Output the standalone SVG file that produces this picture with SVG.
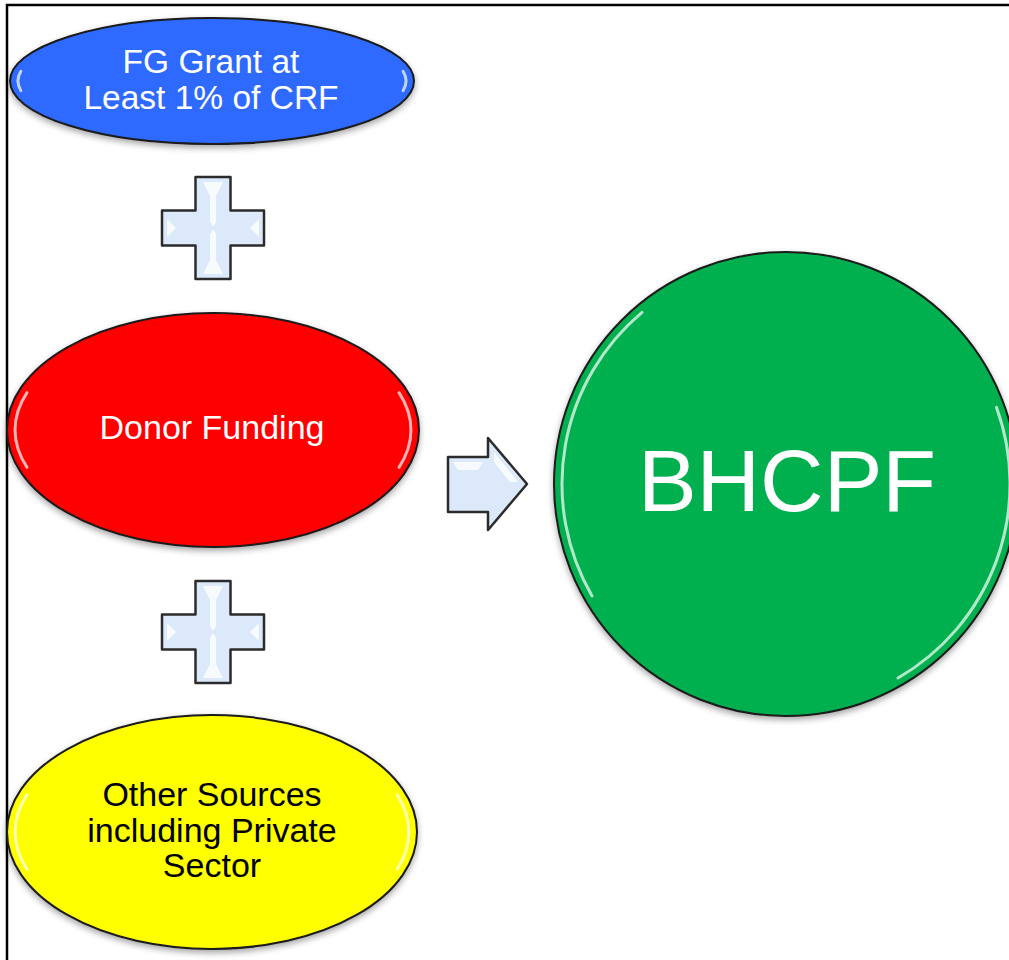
<svg xmlns="http://www.w3.org/2000/svg" width="1009" height="960" viewBox="0 0 1009 960">
<style>
  .lbl { font-family: "Liberation Sans", Arial, sans-serif; text-anchor: middle; }
  .white { fill: #ffffff; }
  .black { fill: #000000; }
  .shape { stroke: #1a1a1a; stroke-width: 2; }
  .gloss { fill: none; stroke: #ffffff; stroke-width: 3; stroke-linecap: round; opacity: 0.7; }
  .sym { fill: #dce9fa; stroke: #2b2b2b; stroke-width: 2.5; stroke-linejoin: round; }
  .facet { fill: #ffffff; opacity: 0.8; }
</style>
<defs>
  <filter id="shadow" x="-10%" y="-10%" width="120%" height="125%">
    <feDropShadow dx="0" dy="3" stdDeviation="3" flood-color="#000000" flood-opacity="0.35"/>
  </filter>
  <g id="plus">
    <path class="sym" d="M-17.5,-51 H17.5 V-17.5 H51 V17.5 H17.5 V51 H-17.5 V17.5 H-51 V-17.5 H-17.5 Z"/>
    <polygon class="facet" points="-10,-46 10,-46 3,-32 3,-6 0,-1 -3,-6 -3,-32"/>
    <polygon class="facet" points="-10,46 10,46 3,32 3,6 0,1 -3,6 -3,32"/>
    <polygon class="facet" points="-46,-9 -37,0 -46,9"/>
    <polygon class="facet" points="46,-9 37,0 46,9"/>
  </g>
</defs>
<rect width="1009" height="960" fill="#ffffff"/>
<g id="frame">
  <path d="M7,960 V5 H1009" fill="none" stroke="#000000" stroke-width="2.5"/>
</g>

<g id="node-fg">
  <ellipse class="shape" cx="212" cy="81" rx="202" ry="63" fill="#2f6bff" filter="url(#shadow)"/>
  <path class="gloss" d="M20.9,90.7 A194,56 0 0 1 20.9,71.3"/>
  <path class="gloss" d="M403.1,71.3 A194,56 0 0 1 403.1,90.7"/>
  <text class="lbl white" font-size="33.5" x="211" y="73">FG Grant at</text>
  <text class="lbl white" font-size="33.5" x="211" y="109">Least 1% of CRF</text>
</g>

<g id="node-donor">
  <ellipse class="shape" cx="213" cy="430" rx="206" ry="117" fill="#ff0000" filter="url(#shadow)"/>
  <path class="gloss" d="M27,467.3 A198,109 0 0 1 27,392.7"/>
  <path class="gloss" d="M399,392.7 A198,109 0 0 1 399,467.3"/>
  <text class="lbl white" font-size="34" x="212" y="439">Donor Funding</text>
</g>

<g id="node-other">
  <ellipse class="shape" cx="212" cy="832" rx="205" ry="117" fill="#ffff00" filter="url(#shadow)"/>
  <path class="gloss" d="M27,869.3 A197,109 0 0 1 27,794.7"/>
  <path class="gloss" d="M397,794.7 A197,109 0 0 1 397,869.3"/>
  <text class="lbl black" font-size="34" x="212" y="806">Other Sources</text>
  <text class="lbl black" font-size="34" x="212" y="842">including Private</text>
  <text class="lbl black" font-size="34" x="212" y="877">Sector</text>
</g>

<g id="node-bhcpf">
  <circle class="shape" cx="786" cy="484" r="232" fill="#00b050" filter="url(#shadow)"/>
  <path class="gloss" d="M592,596 A224,224 0 0 1 642,312.4" stroke="#8ff5b5"/>
  <path class="gloss" d="M996.5,407.4 A224,224 0 0 1 898,678" stroke="#8ff5b5"/>
  <text class="lbl white" font-size="88" x="787" y="511">BHCPF</text>
</g>

<g id="connectors">
  <use href="#plus" x="213" y="228"/>
  <use href="#plus" x="213" y="632"/>
  <g id="arrow">
    <path class="sym" d="M448,457 H488 V438 L527,484 L488,530 V512 H448 Z"/>
    <polygon class="facet" points="453,462 483,462 478,470 458,470" opacity="0.5"/>
    <polygon class="facet" points="494,452 518,482 510,482 494,462"/>
  </g>
</g>
</svg>
